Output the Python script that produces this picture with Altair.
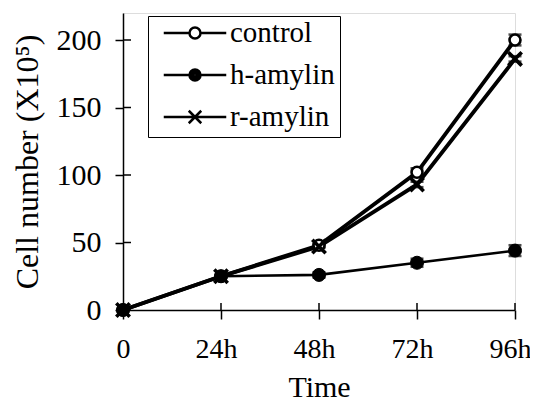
import altair as alt
import pandas as pd

hours = [0, 24, 48, 72, 96]
series_names = ["control", "h-amylin", "r-amylin"]
control = [0, 25, 48, 102, 200]
control_err = [0, 0, 1, 3, 4]
h_amylin = [0, 25, 26, 35, 44]
h_amylin_err = [0, 0, 2, 3, 4]
r_amylin = [0, 25, 47, 93, 186]
r_amylin_err = [0, 0, 1, 2, 2]
y_ticks = [0, 50, 100, 150, 200]
x_ticks = [0, 24, 48, 72, 96]

rows = []
for name, vals, errs in zip(series_names, [control, h_amylin, r_amylin],
                            [control_err, h_amylin_err, r_amylin_err]):
    for h, v, e in zip(hours, vals, errs):
        rows.append({"series": name, "hour": h, "value": v, "lo": v - e, "hi": v + e})
df = pd.DataFrame(rows)
ytick_df = pd.DataFrame({"t": y_ticks})
xtick_df = pd.DataFrame({"t": x_ticks})

FONT = "Liberation Serif"
W, H = 392, 297

x_axis = alt.Axis(values=x_ticks, title="Time",
                  labelExpr="datum.value == 0 ? '0' : datum.value + 'h'",
                  grid=False, tickSize=9, tickWidth=1.5, tickColor="black",
                  domainColor="black", domainWidth=1.5, labelFlush=False,
                  labelOffset={"condition": {"test": "datum.value == 0", "value": 0},
                               "value": -5},
                  labelFont=FONT, labelFontSize=28, labelColor="black", labelPadding=16,
                  titleFont=FONT, titleFontSize=30, titleFontWeight="normal",
                  titleColor="black", titlePadding=9)
y_axis = alt.Axis(values=y_ticks, title="Cell number (X10⁵)",
                  grid=False, tickSize=8, tickWidth=1.5, tickColor="black",
                  domainColor="black", domainWidth=1.5, labelFlush=False,
                  labelFont=FONT, labelFontSize=30, labelColor="black", labelPadding=14,
                  titleFont=FONT, titleFontSize=32, titleFontWeight="normal",
                  titleColor="black", titlePadding=12)
x_scale = alt.Scale(domain=[0, 96], nice=False, zero=False)
y_scale = alt.Scale(domain=[0, 220], nice=False)


def X(field):
    return alt.X(field, scale=x_scale, axis=x_axis)


def Y(field):
    return alt.Y(field, scale=y_scale, axis=y_axis)


base = alt.Chart(df)


def series_line(name, width):
    return base.transform_filter(f"datum.series == '{name}'").mark_line(
        color="black", strokeWidth=width).encode(x=X("hour:Q"), y=Y("value:Q"))


line_c = series_line("control", 3.8)
line_h = series_line("h-amylin", 2.6)
line_r = series_line("r-amylin", 3.8)

err_df = base.transform_filter("datum.hi > datum.lo")
err_rules = err_df.mark_rule(color="black", strokeWidth=2).encode(
    x=X("hour:Q"), y=Y("lo:Q"), y2="hi:Q")
cap_hi = err_df.mark_tick(color="black", orient="horizontal", size=13, thickness=2.5).encode(
    x=X("hour:Q"), y=Y("hi:Q"))
cap_lo = err_df.mark_tick(color="black", orient="horizontal", size=13, thickness=2.5).encode(
    x=X("hour:Q"), y=Y("lo:Q"))

pts_control = base.transform_filter("datum.series == 'control'").mark_point(
    shape="circle", filled=True, fill="white", stroke="black", strokeWidth=2.6,
    size=120, opacity=1).encode(x=X("hour:Q"), y=Y("value:Q"))
pts_h = base.transform_filter("datum.series == 'h-amylin'").mark_point(
    shape="circle", filled=True, fill="black", stroke="black", strokeWidth=1,
    size=170, opacity=1).encode(x=X("hour:Q"), y=Y("value:Q"))
pts_r = base.transform_filter("datum.series == 'r-amylin'").mark_point(
    shape="M-1,-1L1,1M-1,1L1,-1", filled=False, stroke="black", strokeWidth=3.6,
    size=180, opacity=1).encode(x=X("hour:Q"), y=Y("value:Q"))

inner_y = alt.Chart(ytick_df).mark_rule(color="black", strokeWidth=1.5).encode(
    y=Y("t:Q"), x=alt.value(0), x2=alt.value(8))
inner_x = alt.Chart(xtick_df).mark_rule(color="black", strokeWidth=1.5).encode(
    x=X("t:Q"), y=alt.value(H - 7), y2=alt.value(H))


def ring(r):
    return f"M{-r},0A{r},{r} 0 1,0 {r},0A{r},{r} 0 1,0 {-r},0"


legend_paths = [
    "M-2.5,0H-0.44M0.44,0H2.5" + ring(0.44),
    "M-2.5,0H-0.44M0.44,0H2.5" + ring(0.44) + ring(0.28) + ring(0.12),
    "M-2.5,0H2.5M-0.5,-0.5L0.5,0.5M-0.5,0.5L0.5,-0.5",
]
legend_def = alt.Legend(orient="none", legendX=25, legendY=3, title=None,
                        strokeColor="black", fillColor="white", padding=5,
                        symbolSize=625, symbolOffset=27.5,
                        symbolStrokeColor="black", symbolStrokeWidth=2.5,
                        symbolFillColor="transparent", clipHeight=24,
                        symbolOpacity=1, labelFont=FONT, labelFontSize=29,
                        labelColor="black", labelOffset=20.5, rowPadding=13)
legend_layer = base.mark_point(filled=False, color="black").encode(
    x=X("hour:Q"), y=Y("value:Q"),
    opacity=alt.value(0),
    shape=alt.Shape("series:N", scale=alt.Scale(domain=series_names, range=legend_paths),
                    legend=legend_def),
)

chart = alt.layer(
    line_c, line_h, line_r, err_rules, cap_hi, cap_lo, pts_control, pts_h, pts_r,
    inner_y, inner_x, legend_layer
).properties(
    width=W, height=H,
    autosize=alt.AutoSizeParams(type="none"),
    padding={"left": 115, "top": 5, "right": 15, "bottom": 93},
).configure_view(stroke=None).configure(background="white")

chart.save("out.html", embed_options={"renderer": "svg", "actions": False})
